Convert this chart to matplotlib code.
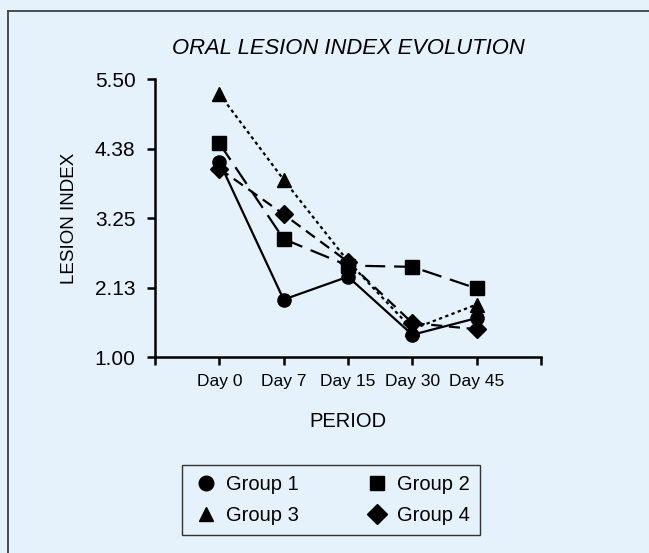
import matplotlib.pyplot as plt
from matplotlib.lines import Line2D

plt.rcParams['font.family'] = ['Liberation Sans', 'DejaVu Sans']

periods = ['Day 0', 'Day 7', 'Day 15', 'Day 30', 'Day 45']
group1 = [4.16, 1.93, 2.30, 1.36, 1.63]
group2 = [4.46, 2.91, 2.48, 2.46, 2.11]
group3 = [5.26, 3.87, 2.55, 1.45, 1.85]
group4 = [4.05, 3.31, 2.54, 1.55, 1.45]

y_ticks = [1.00, 2.125, 3.25, 4.375, 5.50]
y_tick_labels = ['1.00', '2.13', '3.25', '4.38', '5.50']

bg = '#E5F1FB'

fig = plt.figure(figsize=(6.49, 5.53), dpi=100, facecolor=bg)
ax = fig.add_axes([0.2388, 0.3544, 0.5948, 0.5027])
ax.set_facecolor(bg)

x = list(range(len(periods)))
lw = 1.6
ax.plot(x, group1, color='black', lw=lw, linestyle='-', marker='o', markersize=9.5, label='Group 1')
ax.plot(x, group2, color='black', lw=lw, dashes=(9, 4), marker='s', markersize=9.5, label='Group 2')
ax.plot(x, group3, color='black', lw=lw, dashes=(1.5, 1.5), marker='^', markersize=10.5, label='Group 3')
ax.plot(x, group4, color='black', lw=lw, dashes=(5, 3), marker='D', markersize=9, label='Group 4')

ax.set_xlim(-1, len(periods))
ax.set_ylim(1.0, 5.5)
ax.set_xticks([-1] + x + [len(periods)])
ax.set_xticklabels([''] + periods + [''], fontsize=12.5)
ax.set_yticks(y_ticks)
ax.set_yticklabels(y_tick_labels, fontsize=15)
ax.tick_params(axis='both', direction='out', length=6, width=1.8, color='black')
ax.tick_params(axis='x', pad=6)
ax.tick_params(axis='y', pad=8)

for side in ['top', 'right']:
    ax.spines[side].set_visible(False)
for side in ['left', 'bottom']:
    ax.spines[side].set_linewidth(1.8)
    ax.spines[side].set_color('black')

ax.set_title('ORAL LESION INDEX EVOLUTION', fontsize=15.8, style='italic', pad=18)
ax.set_xlabel('PERIOD', fontsize=14.5, labelpad=17)
ax.set_ylabel('LESION INDEX', fontsize=13.5, labelpad=12)

# frame lines at top and left of the figure
fig.add_artist(Line2D([8 / 649, 8 / 649], [0, 1 - 11 / 553], color='#404040', lw=1.3))
fig.add_artist(Line2D([8 / 649, 1], [1 - 11 / 553, 1 - 11 / 553], color='#404040', lw=1.3))

# legend fills column-wise, so order gives rows (1, 2) and (3, 4)
handles = [
    Line2D([], [], color='black', linestyle='none', marker='o', markersize=10.5),
    Line2D([], [], color='black', linestyle='none', marker='^', markersize=10.5),
    Line2D([], [], color='black', linestyle='none', marker='s', markersize=10.5),
    Line2D([], [], color='black', linestyle='none', marker='D', markersize=10.5),
]
labels = ['Group 1', 'Group 3', 'Group 2', 'Group 4']
leg = fig.legend(handles, labels, loc='center', bbox_to_anchor=(0.510, 0.0958), ncol=2,
                 fontsize=14.5, frameon=True, fancybox=False, edgecolor='#333333',
                 facecolor=bg, framealpha=1, handlelength=1.4, handletextpad=0.3,
                 columnspacing=3.2, borderpad=0.5, labelspacing=0.6)
leg.get_frame().set_linewidth(1.0)

fig.savefig('out.png', dpi=100, facecolor=bg)
